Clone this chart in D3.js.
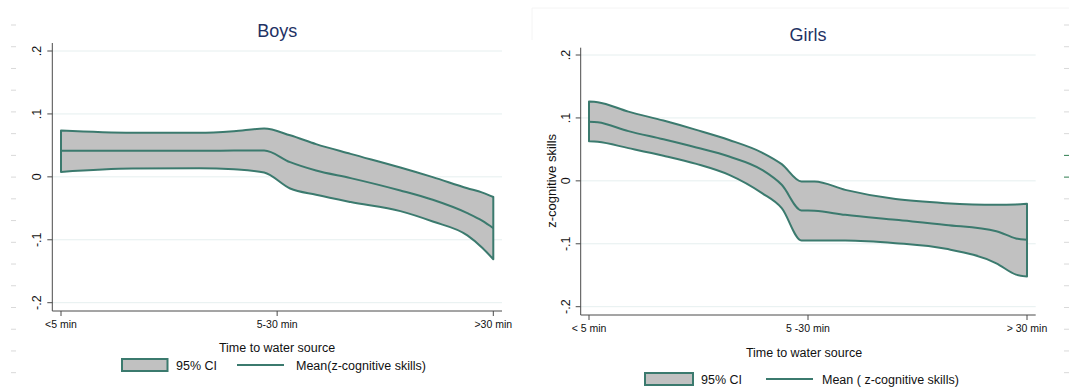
<!DOCTYPE html>
<html>
<head>
<meta charset="utf-8">
<script src="https://cdn.jsdelivr.net/npm/d3@7"></script>
<style>
  html, body { margin: 0; padding: 0; background: #fff; }
  svg { display: block; font-family: "Liberation Sans", Arial, Helvetica, sans-serif; }
</style>
</head>
<body>
<div id="chart"></div>
<script>
// categories on the x axis (0, 1, 2)
const xCategoriesBoys = ['<5 min', '5-30 min', '>30 min'];
const xCategoriesGirls = ['< 5 min', '5 -30 min', '> 30 min'];
const yTicks = [-0.2, -0.1, 0, 0.1, 0.2];
const yTickLabels = ['-.2', '-.1', '0', '.1', '.2'];

// Boys: smoothed mean and 95% CI
const boysX     = [0, 0.33, 0.64, 0.8, 0.94, 1.06, 1.18, 1.34, 1.57, 1.72, 1.88, 1.95, 2];
const boysUpper = [0.0735, 0.070, 0.070, 0.0725, 0.0767, 0.066, 0.052, 0.0365, 0.0148, -0.0005, -0.018, -0.025, -0.032];
const boysMean  = [0.0413, 0.0415, 0.0415, 0.0417, 0.0418, 0.0233, 0.010, -0.002, -0.0217, -0.0365, -0.0577, -0.070, -0.0815];
const boysLower = [0.0079, 0.0132, 0.0138, 0.012, 0.0069, -0.0185, -0.0286, -0.040, -0.0545, -0.071, -0.093, -0.113, -0.131];

// Girls: smoothed mean and 95% CI
const girlsX     = [0, 0.04, 0.18, 0.34, 0.49, 0.64, 0.79, 0.88, 0.97, 1.03, 1.17, 1.40, 1.63, 1.86, 1.95, 2];
const girlsUpper = [0.126, 0.125, 0.110, 0.0958, 0.081, 0.065, 0.045, 0.0265, -0.001, -0.001, -0.0143, -0.029, -0.0355, -0.038, -0.0375, -0.0365];
const girlsMean  = [0.094, 0.093, 0.079, 0.066, 0.053, 0.0386, 0.0175, -0.0063, -0.047, -0.0476, -0.054, -0.062, -0.070, -0.080, -0.0915, -0.0937];
const girlsLower = [0.063, 0.062, 0.052, 0.040, 0.027, 0.0095, -0.0196, -0.0434, -0.0947, -0.0947, -0.0947, -0.099, -0.108, -0.131, -0.149, -0.152];

const COLORS = {
  line: '#3b7a6e',
  band: '#c1c1c1',
  axis: '#4a4a4a',
  grid: '#e6efef',
  title: '#1f3264',
  text: '#111',
  ruler: '#d9d9d9'
};

const W = 1069, H = 392;
const svg = d3.select('#chart').append('svg').attr('width', W).attr('height', H);

// screenshot leftovers: faint ruler dashes on the edges
const rulerY = d3.range(25, 380, 21.73);
svg.selectAll('.ruler-l').data(rulerY).join('line')
  .attr('x1', 11).attr('x2', 16).attr('y1', d => d).attr('y2', d => d)
  .attr('stroke', COLORS.ruler).attr('stroke-width', 1);
svg.selectAll('.ruler-r').data(rulerY).join('line')
  .attr('x1', 1064).attr('x2', 1069).attr('y1', d => d).attr('y2', d => d)
  .attr('stroke', (d, i) => (i === 6 || i === 7) ? '#2e7d4f' : COLORS.ruler).attr('stroke-width', 1);
svg.append('path').attr('d', 'M532,40V8H1069').attr('fill', 'none').attr('stroke', '#f4f4f4');

const Panel = {
  render: function(g, data, opts) {
    const x = d3.scaleLinear().domain([0, 2]).range([opts.x0, opts.x1]);
    const y = d3.scaleLinear().domain([-0.2, 0.2]).range([opts.yBot, opts.yTop]);

    // gridlines
    g.selectAll('.grid').data(yTicks).join('line')
      .attr('x1', opts.axisX).attr('x2', opts.plotRight)
      .attr('y1', d => y(d)).attr('y2', d => y(d))
      .attr('stroke', COLORS.grid).attr('stroke-width', 1);

    const pts = data.x.map((v, i) => ({ x: v, lo: data.lower[i], hi: data.upper[i], m: data.mean[i] }));

    const area = d3.area()
      .x(d => x(d.x)).y0(d => y(d.lo)).y1(d => y(d.hi))
      .curve(d3.curveMonotoneX);
    g.append('path').datum(pts).attr('d', area)
      .attr('fill', COLORS.band).attr('stroke', COLORS.line)
      .attr('stroke-width', 2).attr('stroke-linejoin', 'round');

    const line = d3.line().x(d => x(d.x)).y(d => y(d.m)).curve(d3.curveMonotoneX);
    g.append('path').datum(pts).attr('d', line)
      .attr('fill', 'none').attr('stroke', COLORS.line).attr('stroke-width', 2);

    // axes
    g.append('line').attr('x1', opts.axisX).attr('x2', opts.axisX)
      .attr('y1', opts.frameTop).attr('y2', opts.axisY)
      .attr('stroke', COLORS.axis).attr('stroke-width', 1);
    g.append('line').attr('x1', opts.axisX).attr('x2', opts.plotRight)
      .attr('y1', opts.axisY).attr('y2', opts.axisY)
      .attr('stroke', COLORS.axis).attr('stroke-width', 1);

    // y ticks
    g.selectAll('.ytick').data(yTicks).join('line')
      .attr('x1', opts.axisX - 5).attr('x2', opts.axisX)
      .attr('y1', d => y(d)).attr('y2', d => y(d))
      .attr('stroke', COLORS.axis);
    g.selectAll('.ylab').data(yTicks).join('text')
      .attr('transform', d => `translate(${opts.axisX - 11},${y(d)}) rotate(-90)`)
      .attr('text-anchor', 'middle')
      .attr('font-size', 12.5).attr('fill', COLORS.text)
      .text((d, i) => yTickLabels[i]);

    // x ticks
    g.selectAll('.xtick').data([0, 1, 2]).join('line')
      .attr('x1', d => x(d)).attr('x2', d => x(d))
      .attr('y1', opts.axisY).attr('y2', opts.axisY + 5)
      .attr('stroke', COLORS.axis);
    g.selectAll('.xlab').data([0, 1, 2]).join('text')
      .attr('x', d => x(d)).attr('y', opts.axisY + 17)
      .attr('text-anchor', 'middle')
      .attr('font-size', 10.5).attr('fill', COLORS.text)
      .text(d => opts.cats[d]);

    // titles
    g.append('text').attr('x', x(1)).attr('y', opts.titleY)
      .attr('text-anchor', 'middle').attr('font-size', 18)
      .attr('fill', COLORS.title).text(opts.title);
    g.append('text').attr('x', opts.xTitleX).attr('y', opts.xTitleY)
      .attr('text-anchor', 'middle').attr('font-size', 12.5)
      .attr('fill', COLORS.text).text('Time to water source');
    if (opts.yTitle) {
      g.append('text')
        .attr('transform', `translate(${opts.yTitleX},${(y(0.2) + y(-0.2)) / 2}) rotate(-90)`)
        .attr('text-anchor', 'middle').attr('font-size', 13)
        .attr('fill', COLORS.text).text(opts.yTitle);
    }

    // legend
    const lg = opts.legend;
    g.append('rect').attr('x', lg.boxX).attr('y', lg.y - 6).attr('width', lg.boxW).attr('height', 12)
      .attr('fill', COLORS.band).attr('stroke', COLORS.line).attr('stroke-width', 2);
    g.append('text').attr('x', lg.ciX).attr('y', lg.y + 4.5)
      .attr('font-size', 12.5).attr('fill', COLORS.text).text('95% CI');
    g.append('line').attr('x1', lg.lineX).attr('x2', lg.lineX + 47)
      .attr('y1', lg.y).attr('y2', lg.y)
      .attr('stroke', COLORS.line).attr('stroke-width', 2);
    g.append('text').attr('x', lg.meanX).attr('y', lg.y + 4.5)
      .attr('font-size', 12.5).attr('fill', COLORS.text).text(lg.meanLabel);
  }
};

Panel.render(svg.append('g'),
  { x: boysX, upper: boysUpper, mean: boysMean, lower: boysLower },
  {
    x0: 61, x1: 493.3, yTop: 51, yBot: 302.7,
    axisX: 52.3, axisY: 311, frameTop: 43, plotRight: 502,
    cats: xCategoriesBoys, title: 'Boys', titleY: 37,
    xTitleX: 277, xTitleY: 352,
    legend: { y: 365, boxX: 122, boxW: 45.5, ciX: 176, lineX: 237, meanX: 296, meanLabel: 'Mean(z-cognitive skills)' }
  });

Panel.render(svg.append('g'),
  { x: girlsX, upper: girlsUpper, mean: girlsMean, lower: girlsLower },
  {
    x0: 589, x1: 1027, yTop: 55, yBot: 306.7,
    axisX: 580.7, axisY: 315, frameTop: 47.7, plotRight: 1035.7,
    cats: xCategoriesGirls, title: 'Girls', titleY: 40.5,
    xTitleX: 804, xTitleY: 356.5,
    yTitle: 'z-cognitive skills', yTitleX: 556,
    legend: { y: 379, boxX: 645, boxW: 48, ciX: 701, lineX: 766, meanX: 822, meanLabel: 'Mean ( z-cognitive skills)' }
  });
</script>
</body>
</html>
